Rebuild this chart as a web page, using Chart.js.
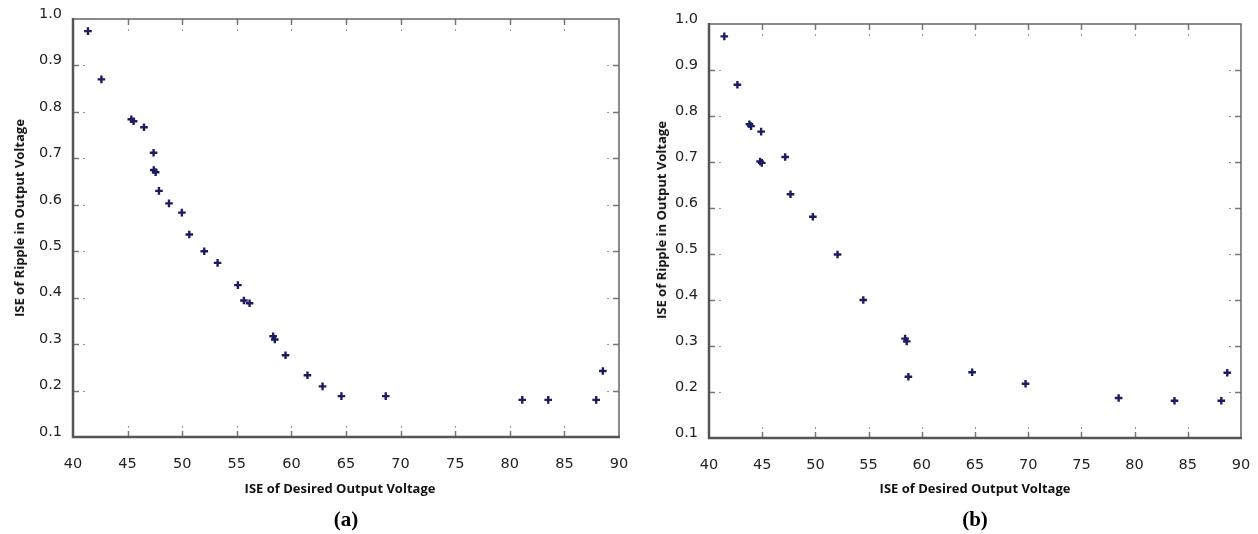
<!DOCTYPE html>
<html>
<head>
<meta charset="utf-8">
<script src="https://cdn.jsdelivr.net/npm/chart.js"></script>
<style>
  body { margin:0; background:#fff; width:1258px; height:534px; position:relative; overflow:hidden; }
  canvas { position:absolute; top:0; }
  .lbl { position:absolute; font-family:"Liberation Sans Narrow","Open Sans",sans-serif; font-weight:bold; font-size:13px; color:#111; white-space:nowrap; transform:translate(-50%,-50%); }
  .ylbl { transform:translate(-50%,-50%) rotate(-90deg); }
  .cap { position:absolute; font-family:"Liberation Serif","DejaVu Serif",serif; font-weight:bold; font-size:21px; color:#000; transform:translate(-50%,-50%); }
</style>
</head>
<body>
<canvas id="chartA" width="630" height="534" style="left:0"></canvas>
<canvas id="chartB" width="628" height="534" style="left:630px"></canvas>

<div class="lbl ylbl" style="left:19px; top:218px">ISE of Ripple in Output Voltage</div>
<div class="lbl ylbl" style="left:661px; top:220px">ISE of Ripple in Output Voltage</div>
<div class="lbl" style="left:340px; top:488px">ISE of Desired Output Voltage</div>
<div class="lbl" style="left:975px; top:488px">ISE of Desired Output Voltage</div>
<div class="cap" style="left:346px; top:519px">(a)</div>
<div class="cap" style="left:975px; top:519px">(b)</div>

<script>
// tick labels
const xTicks = [40, 45, 50, 55, 60, 65, 70, 75, 80, 85, 90];
const yTicks = [0.1, 0.2, 0.3, 0.4, 0.5, 0.6, 0.7, 0.8, 0.9, 1.0];

// (a)
const aX = [41.37, 42.6, 45.34, 45.55, 46.5, 47.38, 47.4, 47.57, 47.87, 48.79, 49.97, 50.65,
            52.02, 53.24, 55.1, 55.65, 56.17, 58.33, 58.48, 59.46, 61.47, 62.85,
            64.58, 68.64, 81.14, 83.52, 87.91, 88.52];
const aY = [0.974, 0.870, 0.784, 0.780, 0.767, 0.712, 0.675, 0.670, 0.630, 0.603, 0.583, 0.536,
            0.500, 0.475, 0.427, 0.394, 0.388, 0.317, 0.310, 0.276, 0.233, 0.209,
            0.188, 0.188, 0.180, 0.180, 0.180, 0.242];

// (b)
const bX = [41.44, 42.67, 43.8, 43.95, 44.9, 44.8, 44.96, 47.16, 47.66, 49.76,
            52.08, 54.5, 58.43, 58.58, 58.74, 64.73, 69.75, 78.5, 83.75, 88.15, 88.71];
const bY = [0.973, 0.868, 0.782, 0.778, 0.766, 0.701, 0.698, 0.711, 0.630, 0.581,
            0.499, 0.400, 0.316, 0.310, 0.233, 0.243, 0.218, 0.187, 0.181, 0.181, 0.242];

const frame = {
  id: 'frame',
  afterDraw(chart) {
    const { ctx, chartArea: a, scales: { x, y } } = chart;
    ctx.save();
    // inner tick marks
    ctx.strokeStyle = '#777';
    ctx.fillStyle = '#999';
    ctx.lineWidth = 1.5;
    xTicks.slice(1, -1).forEach(v => {
      const px = Math.round(x.getPixelForValue(v)) + 0.5;
      ctx.beginPath();
      ctx.moveTo(px, a.bottom); ctx.lineTo(px, a.bottom - 6);
      ctx.moveTo(px, a.top); ctx.lineTo(px, a.top + 6);
      ctx.stroke();
      ctx.fillRect(px - 0.5, a.bottom - 11, 1, 2);
      ctx.fillRect(px - 0.5, a.top + 10, 1, 2);
    });
    yTicks.slice(1, -1).forEach(v => {
      const py = Math.round(y.getPixelForValue(v)) + 0.5;
      ctx.beginPath();
      ctx.moveTo(a.left, py); ctx.lineTo(a.left + 6, py);
      ctx.moveTo(a.right, py); ctx.lineTo(a.right - 6, py);
      ctx.stroke();
      ctx.fillRect(a.left + 10, py - 0.5, 2, 1);
      ctx.fillRect(a.right - 12, py - 0.5, 2, 1);
    });
    // box
    ctx.strokeStyle = '#666';
    ctx.lineWidth = 1.5;
    ctx.beginPath();
    ctx.moveTo(a.left, a.top); ctx.lineTo(a.right, a.top); ctx.lineTo(a.right, a.bottom);
    ctx.stroke();
    ctx.strokeStyle = '#555';
    ctx.lineWidth = 2.5;
    ctx.beginPath();
    ctx.moveTo(a.left, a.top - 1); ctx.lineTo(a.left, a.bottom); ctx.lineTo(a.right + 1, a.bottom);
    ctx.stroke();
    ctx.restore();
  }
};

const tickFont = { family: 'DejaVu Sans', size: 14.5 };

function makeChart(id, xs, ys, area, canvasW) {
  const pts = xs.map((v, i) => ({ x: v, y: ys[i] }));
  return new Chart(document.getElementById(id), {
    type: 'scatter',
    data: { datasets: [{ data: pts, pointStyle: 'cross', radius: 3.8, borderWidth: 2.4,
                         borderColor: '#1c1c5e', backgroundColor: '#1c1c5e' }] },
    options: {
      responsive: false,
      animation: false,
      layout: { padding: { top: area.top, right: canvasW - area.right, left: 0, bottom: 0 } },
      plugins: { legend: { display: false }, tooltip: { enabled: false } },
      scales: {
        x: {
          type: 'linear', min: 40, max: 90,
          afterBuildTicks: s => { s.ticks = xTicks.map(v => ({ value: v })); },
          afterFit: s => { s.height = 534 - area.bottom; s.paddingLeft = 0; s.paddingRight = 0; },
          grid: { display: false },
          border: { display: false },
          ticks: { padding: 11, color: '#222', font: tickFont, maxRotation: 0 }
        },
        y: {
          type: 'linear', min: 0.1, max: 1.0,
          afterBuildTicks: s => { s.ticks = yTicks.map(v => ({ value: v })); },
          afterFit: s => { s.width = area.left; s.paddingTop = 0; s.paddingBottom = 0; },
          grid: { display: false },
          border: { display: false },
          ticks: { padding: 3, labelOffset: -5, color: '#222', font: tickFont,
                   callback: v => v.toFixed(1) }
        }
      }
    },
    plugins: [frame]
  });
}

makeChart('chartA', aX, aY, { left: 73, right: 619, top: 19, bottom: 437 }, 630);
makeChart('chartB', bX, bY, { left: 79, right: 611, top: 24, bottom: 438 }, 628);
</script>
</body>
</html>
